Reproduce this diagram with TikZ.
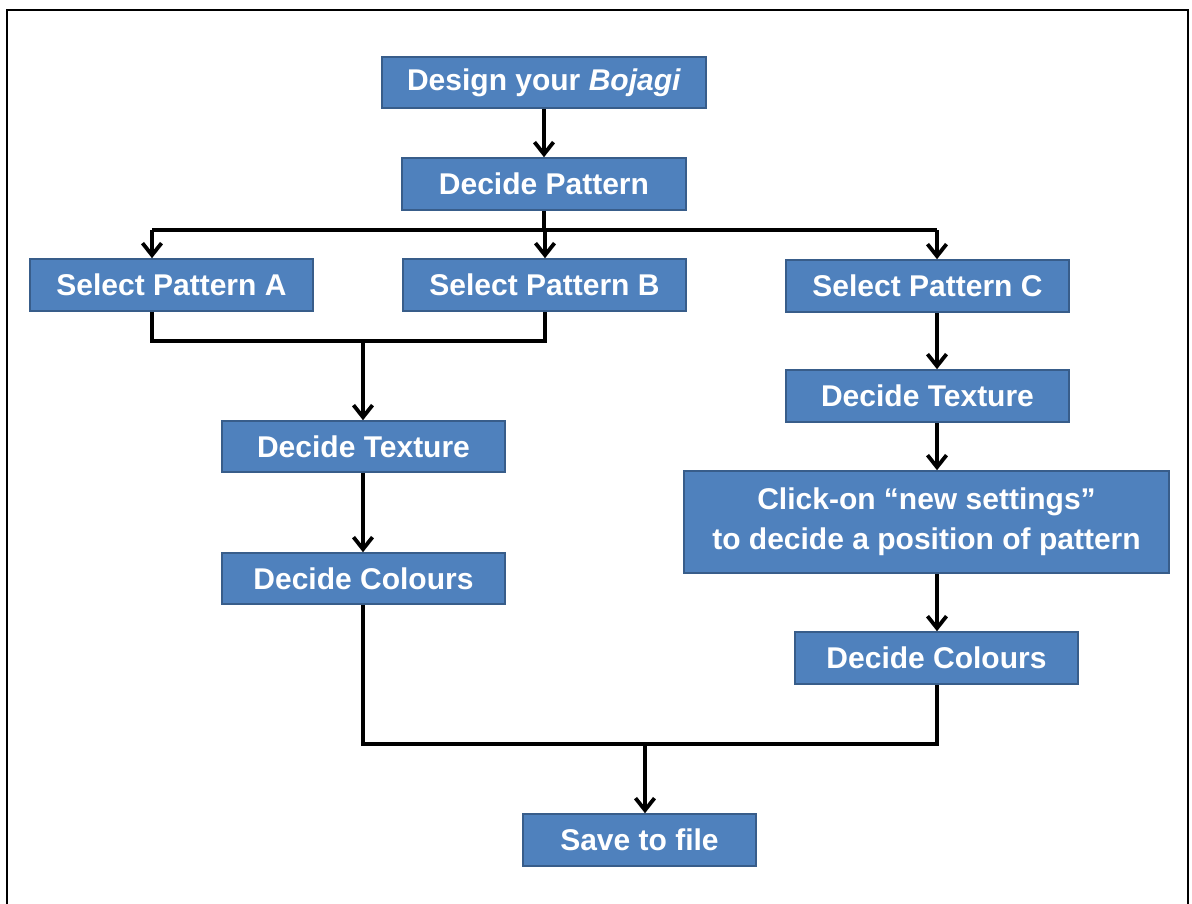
\documentclass[tikz,border=0pt]{standalone}
\usepackage{fontspec}
\setmainfont{Liberation Sans}
\usetikzlibrary{arrows.meta}
\definecolor{boxfill}{HTML}{4F81BD}
\definecolor{boxline}{HTML}{385D8A}
\begin{document}
\begin{tikzpicture}[x=1pt,y=-1pt,
  stepbox/.style={draw=boxline, line width=1.6pt, fill=boxfill, text=white,
    font=\fontsize{30}{40}\selectfont\bfseries, align=center,
    inner sep=0pt, minimum height=52pt},
  link/.style={line width=3.3pt, line join=miter},
  arr/.style={link, -{Straight Barb[length=12pt,width=19pt,line width=3.8pt]}}]
  \useasboundingbox (0,0) rectangle (1192,903);
  % outer frame
  \draw[line width=2.5pt] (7,10) rectangle (1188,920);

  % boxes
  \node[stepbox, minimum width=324pt, minimum height=51pt] (design) at (544,82.5) {Design your \textit{Bojagi}};
  \node[stepbox, minimum width=284pt] (pattern) at (544,184) {Decide Pattern};
  \node[stepbox, minimum width=283pt] (selA) at (171.5,285) {Select Pattern A};
  \node[stepbox, minimum width=283pt] (selB) at (544.5,285) {Select Pattern B};
  \node[stepbox, minimum width=283pt] (selC) at (927.5,286) {Select Pattern C};
  \node[stepbox, minimum width=283pt, minimum height=51pt] (texL) at (363.5,446.5) {Decide Texture};
  \node[stepbox, minimum width=283pt, minimum height=51pt] (colL) at (363.5,578.5) {Decide Colours};
  \node[stepbox, minimum width=283pt] (texR) at (927.5,396) {Decide Texture};
  \node[stepbox, minimum width=485pt, minimum height=102pt] (click) at (926.5,522) {Click-on “new settings”\\to decide a position of pattern};
  \node[stepbox, minimum width=283pt] (colR) at (936.5,658) {Decide Colours};
  \node[stepbox, minimum width=233pt] (save) at (639.5,840) {Save to file};

  % junction points
  \coordinate (bus) at (544,230);
  \coordinate (busA) at (152,230);
  \coordinate (busB) at (545,230);
  \coordinate (busC) at (937,230);
  \coordinate (joinA) at (152,341);
  \coordinate (joinB) at (545,341);
  \coordinate (joinM) at (363,341);
  \coordinate (mergeL) at (363,744);
  \coordinate (mergeR) at (937,744);
  \coordinate (mergeM) at (645,744);

  % top part
  \draw[arr] (design.south) -- (pattern.north);
  \draw[link] (pattern.south) -- (bus);
  \draw[link] (busA) -- (busC);
  \draw[arr] (busA) -- (busA |- selA.north);
  \draw[arr] (busB) -- (busB |- selB.north);
  \draw[arr] (busC) -- (busC |- selC.north);

  % left branch
  \draw[link] (joinA |- selA.south) -- (joinA) -- (joinB) -- (joinB |- selB.south);
  \draw[arr] (joinM) -- (joinM |- texL.north);
  \draw[arr] (joinM |- texL.south) -- (joinM |- colL.north);

  % right branch
  \draw[arr] (busC |- selC.south) -- (busC |- texR.north);
  \draw[arr] (busC |- texR.south) -- (busC |- click.north);
  \draw[arr] (busC |- click.south) -- (busC |- colR.north);

  % merge
  \draw[link] (mergeL |- colL.south) -- (mergeL) -- (mergeR) -- (mergeR |- colR.south);
  \draw[arr] (mergeM) -- (mergeM |- save.north);
\end{tikzpicture}
\end{document}
